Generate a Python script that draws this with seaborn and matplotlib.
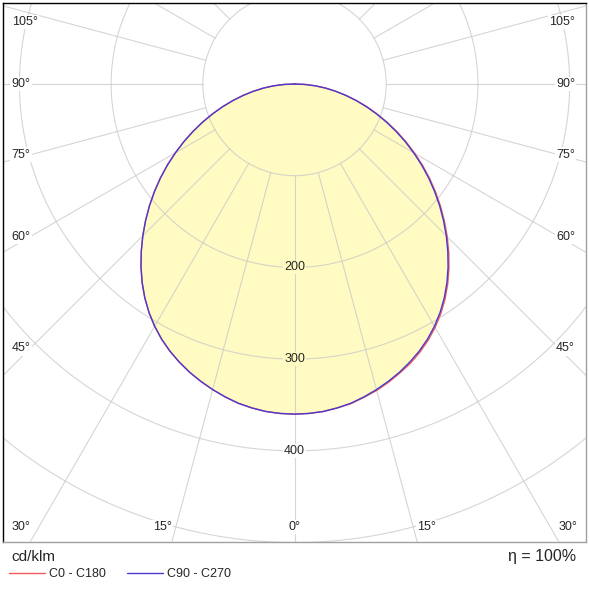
import numpy as np
import pandas as pd
import seaborn as sns
import matplotlib.pyplot as plt

# luminous intensity distribution, cd/klm
gamma = [0, 2.5, 5, 7.5, 10, 12.5, 15, 17.5, 20, 22.5, 25, 27.5, 30, 32.5, 35, 37.5, 40, 42.5, 45,
         47.5, 50, 52.5, 55, 57.5, 60, 62.5, 65, 67.5, 70, 72.5, 75, 77.5, 80, 82.5, 85, 87.5, 90]
c0 = [360, 359.6, 358.5, 356.3, 354, 350, 346, 341, 335.5, 329.8, 323, 315.3, 306.6, 296.9, 286.2,
      274.5, 262, 248.9, 235.5, 221.8, 208, 194, 180, 165.8, 151.5, 137.5, 123.5, 109.6, 96, 82.9,
      70, 57.3, 45.5, 34.2, 23, 11.5, 0]
c180 = [360, 359.6, 358.5, 356.3, 353.5, 349.5, 345, 340, 334.5, 328.3, 321.5, 313.8, 305.1, 295.4, 284.7,
        273.0, 260.5, 247.4, 234.0, 220.3, 206.5, 192.5, 178.5, 164.3, 150, 136, 122, 108.4, 95, 82.1,
        69.5, 57.3, 45.5, 34.2, 23, 11.5, 0]
c90 = [360, 359.6, 358.5, 356.3, 353.5, 349.5, 345, 340, 334.5, 328.3, 321.5, 313.8, 305.1, 295.4, 284.7,
       273.0, 260.5, 247.4, 234.0, 220.3, 206.5, 192.5, 178.5, 164.3, 150, 136, 122, 108.4, 95, 82.1,
       69.5, 57.3, 45.5, 34.2, 23, 11.5, 0]
c270 = [360, 359.6, 358.5, 356.3, 353.5, 349.5, 345, 340, 334.5, 328.3, 321.5, 313.8, 305.1, 295.4, 284.7,
        273.0, 260.5, 247.4, 234.0, 220.3, 206.5, 192.5, 178.5, 164.3, 150, 136, 122, 108.4, 95, 82.1,
        69.5, 57.3, 45.5, 34.2, 23, 11.5, 0]

rings = [100, 200, 300, 400, 500, 600]
ring_labels = [200, 300, 400]
angle_ticks = [0, 15, 30, 45, 60, 75, 90, 105]
legend_names = ["C0 - C180", "C90 - C270"]
unit_text = "cd/klm"
eta_text = "η = 100%"

sns.set_style("white")
plt.rcParams['font.family'] = ['Liberation Sans', 'DejaVu Sans']


def trace(left, right):
    g = np.radians(gamma)
    l = np.array(left, float)
    r = np.array(right, float)
    x = np.concatenate([(-l * np.sin(g))[::-1], (r * np.sin(g))[1:]])
    y = np.concatenate([(-l * np.cos(g))[::-1], (-r * np.cos(g))[1:]])
    return pd.DataFrame({"x": x, "y": y})


red = trace(c180, c0)
blue = trace(c270, c90)

fig = plt.figure(figsize=(5.89, 5.89), dpi=100)
W = 589
ax = fig.add_axes([3.3 / W, (W - 541.7) / W, (585.5 - 3.3) / W, (541.7 - 3.3) / W])
ax.set_xlim(-317.6, 317.3)
ax.set_ylim(-499.1, 88.0)

# light distribution fill
ax.fill(red["x"], red["y"], color="#fffbc3", lw=0, zorder=1)

# polar grid
gc = "#c8c8c8"
t = np.linspace(0, 2 * np.pi, 721)
for r in rings:
    ax.plot(r * np.sin(t), r * np.cos(t), color=gc, lw=0.8, alpha=0.75, zorder=2)
for a in range(0, 360, 15):
    ar = np.radians(a)
    ax.plot([100 * np.sin(ar), 800 * np.sin(ar)], [-100 * np.cos(ar), -800 * np.cos(ar)],
            color=gc, lw=0.8, alpha=0.75, zorder=2)

sns.lineplot(data=red, x="x", y="y", sort=False, estimator=None, color="#f05a5a",
             lw=1.0, ax=ax, zorder=3, label=legend_names[0])
sns.lineplot(data=blue, x="x", y="y", sort=False, estimator=None, color="#4a3ad0",
             lw=1.0, ax=ax, zorder=4, label=legend_names[1])
handles, labels = ax.get_legend_handles_labels()
ax.get_legend().remove()

# ring labels along the 0 deg axis
for r in ring_labels:
    bg = "#fffbc3" if r < c0[0] else "white"
    ax.text(0, -r, str(r), ha="center", va="center", fontsize=9, zorder=5,
            bbox=dict(fc=bg, ec="none", pad=0.5))

# angle labels near the frame
side_x = 288.4
box = dict(fc="white", ec="none", pad=1)
for a in angle_ticks:
    ar = np.radians(a)
    lab = f"{a}°"
    if a == 0:
        ax.text(0, -483, lab, ha="center", va="center", fontsize=9, zorder=5, bbox=box)
    elif a <= 30:
        xi = 499.1 * np.tan(ar)
        ax.text(-xi, -483, lab, ha="right", va="center", fontsize=9, zorder=5, bbox=box)
        ax.text(xi, -483, lab, ha="left", va="center", fontsize=9, zorder=5, bbox=box)
    else:
        yi = min(-side_x * np.cos(ar) / np.sin(ar), 67.6)
        ax.text(-308.4, yi, lab, ha="left", va="center", fontsize=9, zorder=5, bbox=box)
        ax.text(305.9, yi, lab, ha="right", va="center", fontsize=9, zorder=5, bbox=box)

ax.set_xticks([])
ax.set_yticks([])
ax.set_xlabel("")
ax.set_ylabel("")
for s in ["top", "left"]:
    ax.spines[s].set_color("black")
    ax.spines[s].set_linewidth(1.0)
for s in ["bottom", "right"]:
    ax.spines[s].set_color("#a0a0a0")
    ax.spines[s].set_linewidth(1.0)

fig.text(11 / W, 1 - 557 / W, unit_text, ha="left", va="center", fontsize=11)
fig.text(576 / W, 1 - 557 / W, eta_text, ha="right", va="center", fontsize=11.5)
fig.legend(handles, labels, loc="center left", bbox_to_anchor=(9 / W, 1 - 574 / W),
           ncol=2, frameon=False, fontsize=9, handlelength=2.9, handletextpad=0.3,
           columnspacing=1.7, borderpad=0, borderaxespad=0)

fig.savefig("out.png", dpi=100)
